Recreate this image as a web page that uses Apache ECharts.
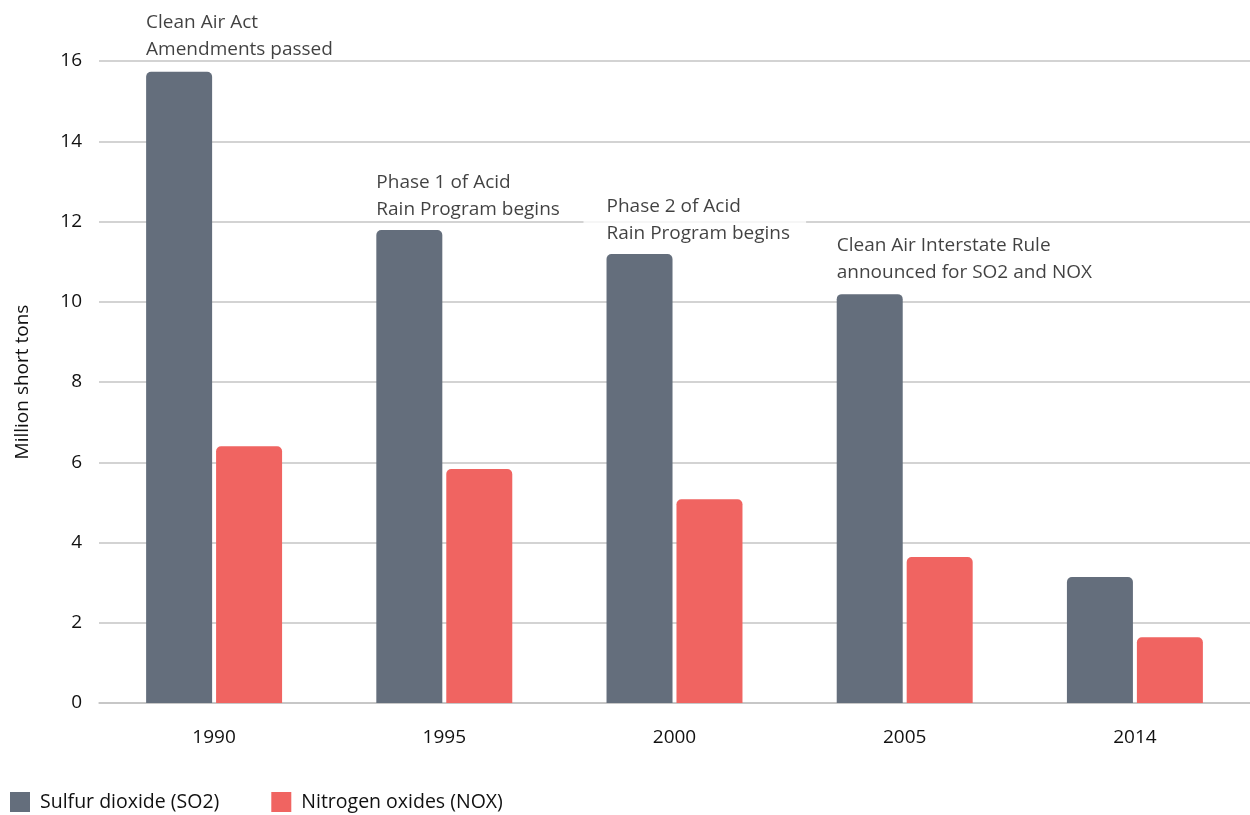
<!DOCTYPE html>
<html>
<head>
<meta charset="utf-8">
<script src="https://cdn.jsdelivr.net/npm/echarts@6/dist/echarts.min.js"></script>
<style>
html,body{margin:0;padding:0;background:#fff;}
#chart{width:1250px;height:815px;}
</style>
</head>
<body>
<div id="chart"></div>
<script>
const categories = ['1990', '1995', '2000', '2005', '2014'];
const so2Values = [15.73, 11.79, 11.19, 10.19, 3.14];
const noxValues = [6.40, 5.83, 5.08, 3.64, 1.64];
const yTicks = { min: 0, max: 16, interval: 2 };
const annotationTexts = [
  'Clean Air Act\nAmendments passed',
  'Phase 1 of Acid\nRain Program begins',
  'Phase 2 of Acid\nRain Program begins',
  'Clean Air Interstate Rule\nannounced for SO2 and NOX'
];
const annotationCategories = ['1990', '1995', '2000', '2005'];
const annotationLevels = [16.62, 12.63, 12.03, 11.06];
const seriesNames = ['Sulfur dioxide (SO2)', 'Nitrogen oxides (NOX)'];

const FONT = '"Open Sans", sans-serif';
const TXT = '#111111';
const chart = echarts.init(document.getElementById('chart'), null, {renderer: 'canvas'});

const annData = annotationTexts.map((t, i) => {
  const item = { value: [annotationCategories[i], annotationLevels[i]], name: t };
  if (i === 2) {
    item.label = { backgroundColor: '#ffffff', padding: [0, 16, 2, 23], offset: [-91, 0] };
  }
  return item;
});

chart.setOption({
  animation: false,
  textStyle: { fontFamily: FONT },
  grid: { left: 99, right: 0, top: 61, bottom: 112 },
  legend: {
    left: 5, top: 787,
    itemWidth: 20, itemHeight: 20, itemGap: 52,
    icon: 'rect',
    textStyle: { fontSize: 19.5, color: TXT, fontFamily: FONT, padding: [0, 0, 0, 5] },
    data: seriesNames
  },
  xAxis: {
    type: 'category',
    data: categories,
    axisLine: { lineStyle: { color: '#c4c4c4', width: 1.5 } },
    axisTick: { show: false },
    axisLabel: { fontSize: 19, color: TXT, margin: 25, fontFamily: FONT }
  },
  yAxis: {
    type: 'value',
    min: yTicks.min, max: yTicks.max, interval: yTicks.interval,
    name: 'Million short tons',
    nameLocation: 'middle',
    nameGap: 67,
    nameRotate: 90,
    nameTextStyle: { fontSize: 19, color: TXT, fontFamily: FONT },
    axisLine: { show: false },
    axisTick: { show: false },
    axisLabel: { fontSize: 19, color: TXT, margin: 17, fontFamily: FONT },
    splitLine: { lineStyle: { color: '#c4c4c4', width: 1.5 } }
  },
  series: [
    {
      name: seriesNames[0], type: 'bar', data: so2Values,
      barWidth: 66, barGap: '6%',
      itemStyle: { color: '#646e7c', borderRadius: [5, 5, 0, 0] }
    },
    {
      name: seriesNames[1], type: 'bar', data: noxValues,
      barWidth: 66, barGap: '6%',
      itemStyle: { color: '#f06461', borderRadius: [5, 5, 0, 0] }
    },
    {
      type: 'scatter', data: annData, symbolSize: 0, z: 10,
      silent: true, clip: false,
      label: {
        show: true,
        position: 'right',
        distance: 0,
        offset: [-68, 0],
        align: 'left',
        formatter: p => p.name,
        fontSize: 19, lineHeight: 27, color: TXT, fontFamily: FONT
      }
    }
  ]
});
</script>
</body>
</html>
